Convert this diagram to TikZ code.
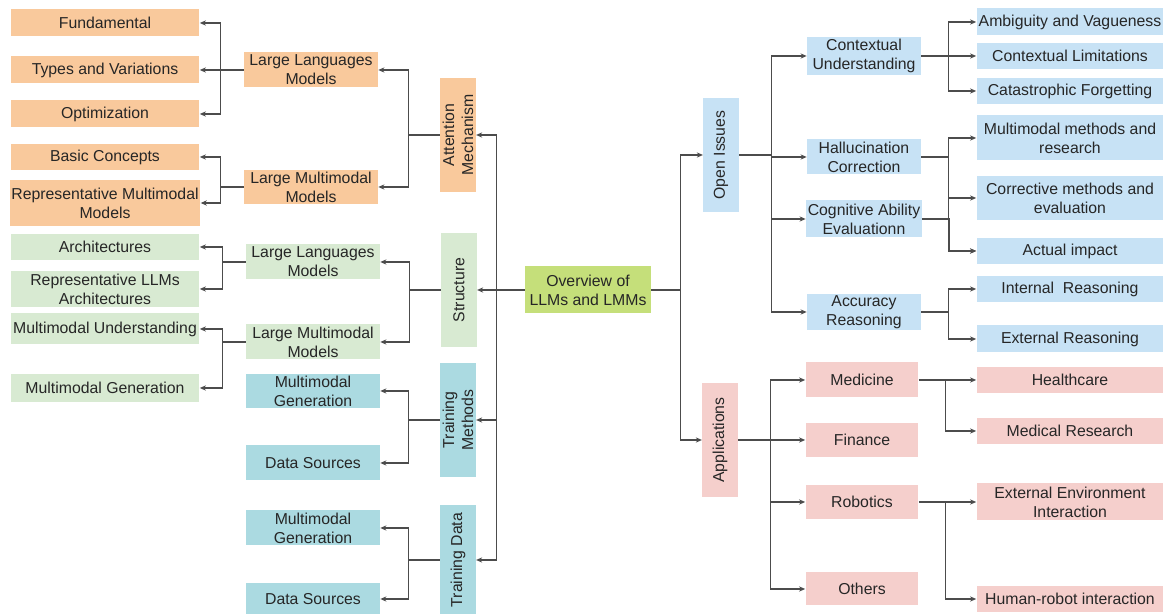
\documentclass[tikz,border=0pt]{standalone}
\usepackage{fontspec}
\setmainfont{Liberation Sans}
\usepackage{tikz}
\usetikzlibrary{arrows.meta}
\definecolor{orangeC}{HTML}{F9C99C}
\definecolor{greenC}{HTML}{D8EAD2}
\definecolor{cyanC}{HTML}{ABDAE1}
\definecolor{blueC}{HTML}{C7E2F5}
\definecolor{pinkC}{HTML}{F5CFCC}
\definecolor{overC}{HTML}{C5DF7A}
\begin{document}
\begin{tikzpicture}[x=0.02cm,y=-0.02cm,
  box/.style={inner sep=1pt, align=center, text=black!85, font=\fontsize{9}{10.8}\selectfont},
  tall/.style={minimum height=#1*0.02cm},
  leaf/.style={box, minimum width=3.78cm},
  mid/.style={box, minimum width=2.68cm},
  side/.style={box, rotate=90, minimum width=2.3cm, minimum height=0.71cm},
  link/.style={draw=black!70, line width=0.6pt, -{Stealth[length=3.5pt,width=3pt]}}]
\useasboundingbox (0,0) rectangle (1164,614);
\node [box,fill=overC,minimum width=2.52cm,tall=47] (over) at (588,290) {Overview of\\LLMs and LMMs};
\node [side,fill=orangeC] (attn) at (458,135) {Attention\\Mechanism};
\node [side,fill=greenC] (struct) at (459,290) {Structure};
\node [side,fill=cyanC] (tmeth) at (458,420) {Training\\Methods};
\node [side,fill=cyanC,minimum width=2.2cm] (tdata) at (458,560) {Training Data};
\node [mid,fill=orangeC,tall=35] (llmA) at (311,70) {Large Languages\\Models};
\node [mid,fill=orangeC,tall=34] (lmmA) at (311,187) {Large Multimodal\\Models};
\node [mid,fill=greenC,tall=35] (llmB) at (313,262) {Large Languages\\Models};
\node [mid,fill=greenC,tall=35] (lmmB) at (313,342) {Large Multimodal\\Models};
\node [mid,fill=cyanC,tall=34] (tmgen) at (313,391) {Multimodal\\Generation};
\node [mid,fill=cyanC,tall=35] (tmsrc) at (313,463) {Data Sources};
\node [mid,fill=cyanC,tall=35] (tdgen) at (313,528) {Multimodal\\Generation};
\node [mid,fill=cyanC,tall=32] (tdsrc) at (313,599) {Data Sources};
\node [leaf,fill=orangeC,tall=27] (fund) at (105,23) {Fundamental};
\node [leaf,fill=orangeC,tall=27] (types) at (105,70) {Types and Variations};
\node [leaf,fill=orangeC,tall=27] (optim) at (105,114) {Optimization};
\node [leaf,fill=orangeC,tall=26] (basic) at (105,157) {Basic Concepts};
\node [leaf,fill=orangeC,tall=46] (repmm) at (105,203) {Representative Multimodal\\Models};
\node [leaf,fill=greenC,tall=26] (arch) at (105,247) {Architectures};
\node [leaf,fill=greenC,tall=36] (repllm) at (105,289) {Representative LLMs\\Architectures};
\node [leaf,fill=greenC,tall=31] (mmu) at (105,329) {Multimodal Understanding};
\node [leaf,fill=greenC,tall=28] (mmg) at (105,388) {Multimodal Generation};
\node [side,fill=blueC,minimum width=2.28cm] (open) at (721,155) {Open Issues};
\node [side,fill=pinkC,minimum width=2.28cm] (apps) at (720,440) {Applications};
\node [mid,fill=blueC,minimum width=2.28cm,tall=36] (cu) at (864,56) {Contextual\\Understanding};
\node [mid,fill=blueC,minimum width=2.28cm,tall=35] (hall) at (864,157) {Hallucination\\Correction};
\node [mid,fill=blueC,minimum width=2.28cm,tall=37] (cog) at (864,219) {Cognitive Ability\\Evaluationn};
\node [mid,fill=blueC,minimum width=2.28cm,tall=36] (acc) at (864,312) {Accuracy\\Reasoning};
\node [mid,fill=pinkC,minimum width=2.26cm,tall=35] (med) at (862,380) {Medicine};
\node [mid,fill=pinkC,minimum width=2.26cm,tall=34] (fin) at (862,440) {Finance};
\node [mid,fill=pinkC,minimum width=2.26cm,tall=34] (rob) at (862,502) {Robotics};
\node [mid,fill=pinkC,minimum width=2.26cm,tall=33] (oth) at (862,589) {Others};
\node [leaf,fill=blueC,minimum width=3.74cm,tall=27] (amb) at (1070,22) {Ambiguity and Vagueness};
\node [leaf,fill=blueC,minimum width=3.74cm,tall=26] (ctxl) at (1070,56) {Contextual Limitations};
\node [leaf,fill=blueC,minimum width=3.74cm,tall=26] (cat) at (1070,91) {Catastrophic Forgetting};
\node [leaf,fill=blueC,minimum width=3.74cm,tall=45] (mmr) at (1070,138) {Multimodal methods and\\research};
\node [leaf,fill=blueC,minimum width=3.74cm,tall=44] (corr) at (1070,198) {Corrective methods and\\evaluation};
\node [leaf,fill=blueC,minimum width=3.74cm,tall=26] (act) at (1070,251) {Actual impact};
\node [leaf,fill=blueC,minimum width=3.74cm,tall=26] (intr) at (1070,289) {Internal\ \ Reasoning};
\node [leaf,fill=blueC,minimum width=3.74cm,tall=27] (extr) at (1070,339) {External Reasoning};
\node [leaf,fill=pinkC,minimum width=3.74cm,tall=26] (hc) at (1070,380) {Healthcare};
\node [leaf,fill=pinkC,minimum width=3.74cm,tall=26] (mres) at (1070,431) {Medical Research};
\node [leaf,fill=pinkC,minimum width=3.74cm,tall=37] (eei) at (1070,502) {External Environment\\Interaction};
\node [leaf,fill=pinkC,minimum width=3.74cm,tall=26] (hri) at (1070,599) {Human-robot interaction};

\draw [link] (over.west) -- ++(-28,0) |- (attn.south);
\draw [link] (over.west) -- (struct.south);
\draw [link] (over.west) -- ++(-28,0) |- (tmeth.south);
\draw [link] (over.west) -- ++(-28,0) |- (tdata.south);
\foreach \p/\c in {attn/llmA,attn/lmmA,struct/llmB,struct/lmmB,tmeth/tmgen,tmeth/tmsrc,tdata/tdgen,tdata/tdsrc}
  \draw [link] (\p.north) -- ++(-31,0) |- (\c.east);
\foreach \p/\c in {llmA/fund,llmA/types,llmA/optim,lmmA/basic,lmmA/repmm,llmB/arch,llmB/repllm,lmmB/mmu,lmmB/mmg}
  \draw [link] (\p.west) -- ++(-23,0) |- (\c.east);
\draw [link] (over.east) -- ++(29,0) |- (open.north);
\draw [link] (over.east) -- ++(29,0) |- (apps.north);
\foreach \p/\c in {open/cu,open/hall,open/cog,open/acc,apps/med,apps/fin,apps/rob,apps/oth}
  \draw [link] (\p.south) -- ++(32,0) |- (\c.west);
\foreach \p/\c in {cu/amb,cu/ctxl,cu/cat,hall/mmr,hall/corr,hall/act,cog/act,acc/intr,acc/extr,med/hc,med/mres,rob/eei,rob/hri}
  \draw [link] (\p.east) -- ++(27,0) |- (\c.west);
\end{tikzpicture}
\end{document}
